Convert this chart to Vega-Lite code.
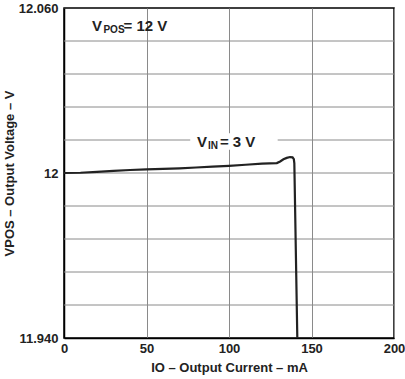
{
  "$schema": "https://vega.github.io/schema/vega-lite/v6.json",
  "width": 330,
  "height": 330,
  "autosize": {"type": "none"},
  "padding": {"left": 64, "top": 8, "right": 11, "bottom": 41},
  "background": "white",
  "config": {
    "font": "Liberation Sans",
    "view": {"stroke": "black", "strokeWidth": 1.5},
    "axis": {
      "labelFont": "Liberation Sans",
      "labelFontWeight": "bold",
      "labelFontSize": 13,
      "labelColor": "#222",
      "titleFont": "Liberation Sans",
      "titleFontWeight": "bold",
      "titleFontSize": 13,
      "titleColor": "#222",
      "domainColor": "black",
      "domainWidth": 1.5,
      "ticks": false,
      "gridColor": "#8a8a8a",
      "gridWidth": 1,
      "gridOpacity": 1,
      "labelFlush": false,
      "labelOverlap": false
    }
  },
  "datasets": {
    "curve": [
      {"I": 0, "V": 12.0000},
      {"I": 10, "V": 12.0001},
      {"I": 20, "V": 12.0004},
      {"I": 30, "V": 12.0008},
      {"I": 40, "V": 12.0011},
      {"I": 50, "V": 12.0013},
      {"I": 60, "V": 12.0015},
      {"I": 70, "V": 12.0017},
      {"I": 80, "V": 12.0020},
      {"I": 90, "V": 12.0023},
      {"I": 100, "V": 12.0026},
      {"I": 110, "V": 12.0030},
      {"I": 120, "V": 12.0034},
      {"I": 129, "V": 12.0036},
      {"I": 131, "V": 12.0042},
      {"I": 133, "V": 12.0050},
      {"I": 135, "V": 12.0055},
      {"I": 137, "V": 12.0058},
      {"I": 138.5, "V": 12.0057},
      {"I": 139.3, "V": 12.0050},
      {"I": 139.6, "V": 12.0035},
      {"I": 141.4, "V": 11.94}
    ],
    "hgrid": [
      {"g": 11.952}, {"g": 11.964}, {"g": 11.976}, {"g": 11.988}, {"g": 12.0},
      {"g": 12.012}, {"g": 12.024}, {"g": 12.036}, {"g": 12.048}
    ],
    "gap": [
      {"x1": 76.5, "x2": 129.5, "y1": 12.0085, "y2": 12.0145}
    ],
    "big": [
      {"x": 17.0, "y": 12.0517, "t": "V"},
      {"x": 36.1, "y": 12.0517, "t": "= 12 V"},
      {"x": 80.6, "y": 12.0096, "t": "V"},
      {"x": 94.5, "y": 12.0096, "t": "= 3 V"}
    ],
    "small": [
      {"x": 23.9, "y": 12.0510, "t": "POS"},
      {"x": 87.3, "y": 12.0089, "t": "IN"}
    ]
  },
  "layer": [
    {
      "data": {"name": "hgrid"},
      "mark": {"type": "rule", "color": "#8a8a8a", "strokeWidth": 1},
      "encoding": {
        "y": {"field": "g", "type": "quantitative"}
      }
    },
    {
      "data": {"name": "curve"},
      "mark": {"type": "line", "color": "#222", "strokeWidth": 2.2, "clip": true},
      "encoding": {
        "x": {
          "field": "I", "type": "quantitative",
          "scale": {"domain": [0, 200], "nice": false},
          "axis": {
            "values": [0, 50, 100, 150, 200],
            "title": "IO – Output Current – mA",
            "labelPadding": 4,
            "titlePadding": 6,
            "grid": true
          }
        },
        "y": {
          "field": "V", "type": "quantitative",
          "scale": {"domain": [11.94, 12.06], "nice": false, "zero": false},
          "axis": {
            "values": [11.94, 12, 12.06],
            "labelExpr": "abs(datum.value-12)<1e-6 ? '12' : (abs(datum.value-11.94)<1e-6 ? '11.940' : '12.060')",
            "title": "VPOS – Output Voltage – V",
            "labelPadding": 6,
            "titlePadding": 2,
            "grid": false
          }
        }
      }
    },
    {
      "data": {"name": "gap"},
      "mark": {"type": "rect", "color": "white"},
      "encoding": {
        "x": {"field": "x1", "type": "quantitative"},
        "x2": {"field": "x2"},
        "y": {"field": "y1", "type": "quantitative"},
        "y2": {"field": "y2"}
      }
    },
    {
      "data": {"name": "big"},
      "mark": {"type": "text", "align": "left", "baseline": "alphabetic", "fontSize": 15, "fontWeight": "bold", "color": "#222", "font": "Liberation Sans"},
      "encoding": {
        "x": {"field": "x", "type": "quantitative"},
        "y": {"field": "y", "type": "quantitative"},
        "text": {"field": "t"}
      }
    },
    {
      "data": {"name": "small"},
      "mark": {"type": "text", "align": "left", "baseline": "alphabetic", "fontSize": 10, "fontWeight": "bold", "color": "#222", "font": "Liberation Sans"},
      "encoding": {
        "x": {"field": "x", "type": "quantitative"},
        "y": {"field": "y", "type": "quantitative"},
        "text": {"field": "t"}
      }
    }
  ]
}
